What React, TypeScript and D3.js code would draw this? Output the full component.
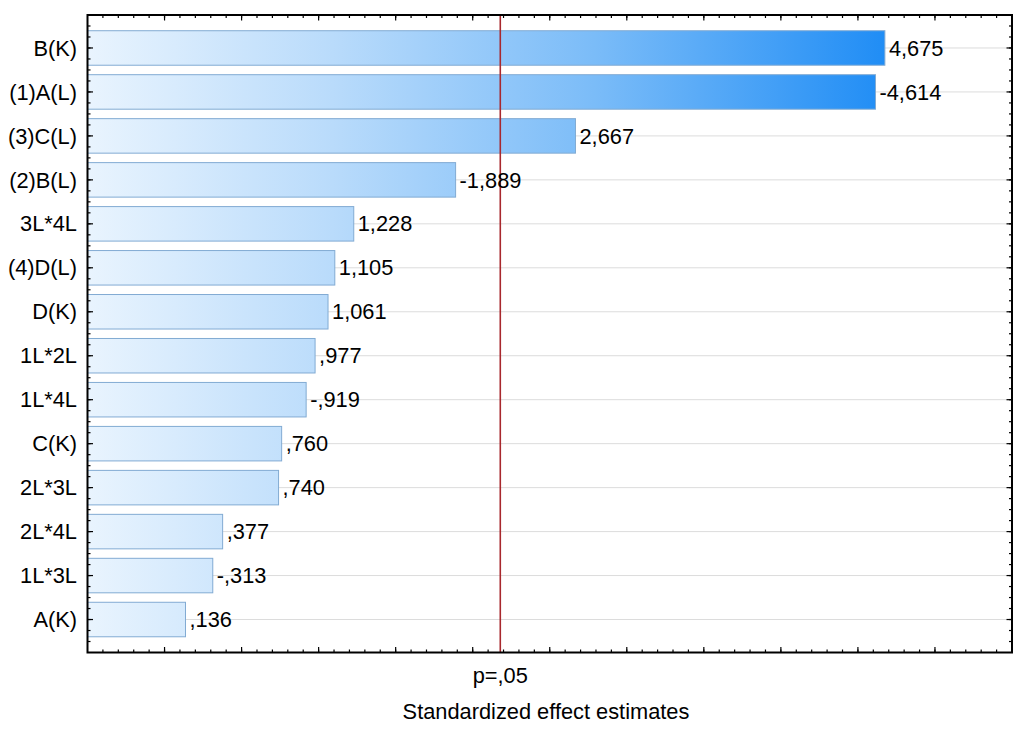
import React from 'react';
import * as d3 from 'd3';

const effectNames = ['B(K)', '(1)A(L)', '(3)C(L)', '(2)B(L)', '3L*4L', '(4)D(L)', 'D(K)', '1L*2L', '1L*4L', 'C(K)', '2L*3L', '2L*4L', '1L*3L', 'A(K)'];
const effectValues = [4.675, -4.614, 2.667, -1.889, 1.228, 1.105, 1.061, 0.977, -0.919, 0.76, 0.74, 0.377, -0.313, 0.136];
const pCritical = 2.179;
const pLabel = 'p=,05';
const xTitle = 'Standardized effect estimates';

const W = 1024;
const H = 731;
const left = 87.5;
const right = 1012;
const top = 15;
const bottom = 652.5;
const font = '"Liberation Sans", Arial, sans-serif';
const fs = 21.8;

// Statistica-style number: ",136" / "-4,614"
const fmt = (v: number) => {
  const s = Math.abs(v).toFixed(3).replace(/^0/, '').replace('.', ',');
  return (v < 0 ? '-' : '') + s;
};

export default function App() {
  const x = d3.scaleLinear().domain([-0.5, 5.5]).range([left, right]);
  const y = d3.scaleLinear().domain([0.25, 14.75]).range([top, bottom]);
  const barH = 34.5;

  const xMinor = d3.range(-4, 55).map(i => i / 10);
  const xMajor = d3.range(0, 11).map(i => i / 2);
  const yMinor = d3.range(2, 59).map(i => i / 4);
  const yMajor = effectNames.map((_, i) => i + 1);

  return (
    <svg width={W} height={H} style={{ position: 'absolute', left: 0, top: 0 }} fontFamily={font}>
      <defs>
        <linearGradient id="barGrad" gradientUnits="userSpaceOnUse" x1={x(-0.5)} x2={x(4.8)} y1={0} y2={0}>
          <stop offset="0" stopColor="#e9f4fe" />
          <stop offset="0.3" stopColor="#b9dbfb" />
          <stop offset="0.62" stopColor="#7bbcf8" />
          <stop offset="1" stopColor="#1a8af5" />
        </linearGradient>
      </defs>
      <rect x={0} y={0} width={W} height={H} fill="#fff" />

      {/* grid lines */}
      {yMajor.map(v => (
        <line key={'g' + v} x1={left} x2={right} y1={y(v)} y2={y(v)} stroke="#dcdcdc" strokeWidth={1} />
      ))}

      {/* bars */}
      {effectValues.map((v, i) => (
        <rect
          key={'b' + i}
          x={x(-0.5)}
          y={y(i + 1) - barH / 2}
          width={x(Math.abs(v)) - x(-0.5)}
          height={barH}
          fill="url(#barGrad)"
          stroke="#82abd3"
          strokeWidth={1}
        />
      ))}

      {/* critical value line */}
      <line x1={x(pCritical)} x2={x(pCritical)} y1={top} y2={bottom} stroke="#a8282d" strokeWidth={1.6} />

      {/* value labels */}
      {effectValues.map((v, i) => (
        <text key={'v' + i} x={x(Math.abs(v)) + 4} y={y(i + 1)} dy="0.35em" fontSize={fs} fill="#000">
          {fmt(v)}
        </text>
      ))}

      {/* category labels */}
      {effectNames.map((n, i) => (
        <text key={'c' + i} x={77} y={y(i + 1)} dy="0.35em" fontSize={fs} textAnchor="end" fill="#000">
          {n}
        </text>
      ))}

      {/* ticks */}
      <g stroke="#000" strokeWidth={1.2}>
        {xMinor.map(v => (
          <g key={'xm' + v}>
            <line x1={x(v)} x2={x(v)} y1={bottom} y2={bottom - 3} />
            <line x1={x(v)} x2={x(v)} y1={top} y2={top + 3} />
          </g>
        ))}
        {xMajor.map(v => (
          <g key={'xM' + v}>
            <line x1={x(v)} x2={x(v)} y1={bottom} y2={bottom - 5.5} />
            <line x1={x(v)} x2={x(v)} y1={top} y2={top + 5.5} />
          </g>
        ))}
        {yMinor.map(v => (
          <g key={'ym' + v}>
            <line x1={left} x2={left + 3} y1={y(v)} y2={y(v)} />
            <line x1={right} x2={right - 3} y1={y(v)} y2={y(v)} />
          </g>
        ))}
        {yMajor.map(v => (
          <g key={'yM' + v}>
            <line x1={left} x2={left + 5.5} y1={y(v)} y2={y(v)} />
            <line x1={right} x2={right - 5.5} y1={y(v)} y2={y(v)} />
          </g>
        ))}
      </g>

      {/* frame */}
      <rect x={left} y={top} width={right - left} height={bottom - top} fill="none" stroke="#000" strokeWidth={2} />

      <text x={x(pCritical)} y={683} fontSize={fs} textAnchor="middle" fill="#000">{pLabel}</text>
      <text x={546} y={719} fontSize={fs} textAnchor="middle" fill="#000">{xTitle}</text>
    </svg>
  );
}
